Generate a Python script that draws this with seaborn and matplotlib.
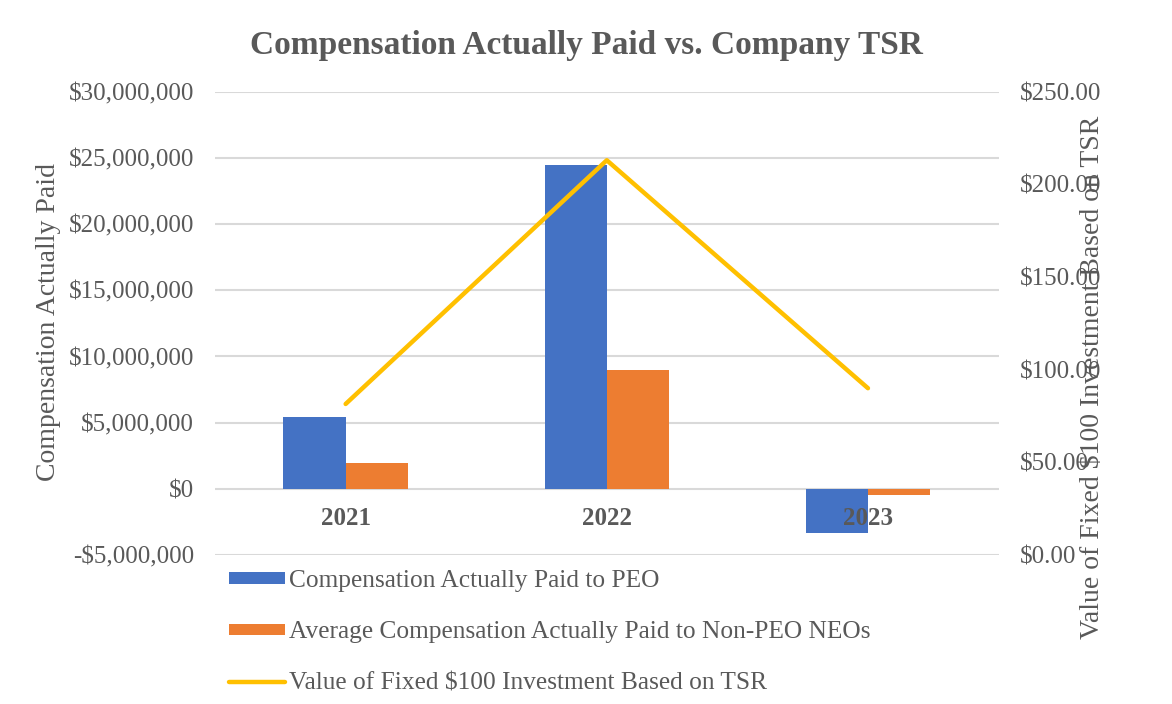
"""
Compensation Actually Paid vs. Company TSR — bars on the left axis, TSR line on the right.
"""

import numpy as np
import pandas as pd
import matplotlib
matplotlib.use("Agg")
import matplotlib.pyplot as plt
import seaborn as sns
from matplotlib.ticker import FuncFormatter, MultipleLocator


YEARS     = ["2021", "2022", "2023"]
PEO_CAP   = [5_430_000, 24_450_000, -3_320_000]
NEO_CAP   = [1_960_000, 9_000_000, -450_000]
TSR_VALUE = [81.5, 213.0, 90.0]

SERIES  = ["Compensation Actually Paid to PEO",
           "Average Compensation Actually Paid to Non-PEO NEOs"]
LINE_LABEL = "Value of Fixed $100 Investment Based on TSR"
COLORS  = ["#4472C4", "#ED7D31"]
YELLOW  = "#FFC000"
GREY    = "#595959"

LEFT_LIM  = (-5_000_000, 30_000_000)
RIGHT_LIM = (0, 250)


# ── Data ───────────────────────────────────────────────────────────────────────
df = pd.DataFrame({
    "Year":   YEARS * 2,
    "Series": [SERIES[0]] * len(YEARS) + [SERIES[1]] * len(YEARS),
    "Value":  PEO_CAP + NEO_CAP,
})

# ── Style ──────────────────────────────────────────────────────────────────────
sns.set_style("white")
plt.rcParams["font.family"] = ["Liberation Serif", "DejaVu Serif"]
plt.rcParams["text.color"] = GREY
plt.rcParams["axes.labelcolor"] = GREY
plt.rcParams["xtick.color"] = GREY
plt.rcParams["ytick.color"] = GREY

fig = plt.figure(figsize=(11.72, 7.04), dpi=100)
ax = fig.add_axes([0.1835, 0.2116, 0.6685, 0.6582])
ax2 = ax.twinx()

# ── Bars ───────────────────────────────────────────────────────────────────────
sns.barplot(data=df, x="Year", y="Value", hue="Series", hue_order=SERIES,
            palette=COLORS, width=0.476, gap=0, saturation=1,
            edgecolor="none", linewidth=0, ax=ax)
bar_handles, bar_labels = ax.get_legend_handles_labels()
ax.get_legend().remove()

ax.set_ylim(*LEFT_LIM)
ax.yaxis.set_major_locator(MultipleLocator(5_000_000))
ax.yaxis.set_major_formatter(FuncFormatter(
    lambda v, _: f"-${abs(v):,.0f}" if v < 0 else f"${v:,.0f}"))
ax.set_xlim(-0.5, len(YEARS) - 0.5)
ax.grid(axis="y", color="#D9D9D9", linewidth=1.5)
ax.set_axisbelow(True)
ax.set_xlabel("")
ax.tick_params(axis="x", labelbottom=False, length=0)
ax.tick_params(axis="y", length=0, labelsize=18, pad=15)
ax.set_ylabel("Compensation Actually Paid", fontsize=20)
ax.yaxis.set_label_coords(-0.196, 0.502)
for sp in ax.spines.values():
    sp.set_visible(False)

# ── TSR line ───────────────────────────────────────────────────────────────────
sns.lineplot(x=np.arange(len(YEARS)), y=TSR_VALUE, color=YELLOW, linewidth=3.2,
             solid_capstyle="round", label=LINE_LABEL, ax=ax2)
line_handles, line_labels = ax2.get_legend_handles_labels()
ax2.get_legend().remove()
ax2.set_ylim(*RIGHT_LIM)
ax2.yaxis.set_major_locator(MultipleLocator(50))
ax2.yaxis.set_major_formatter(FuncFormatter(lambda v, _: f"${v:,.2f}"))
ax2.tick_params(axis="y", length=0, labelsize=18, pad=15)
ax2.set_ylabel("Value of Fixed $100 Investment Based on TSR", fontsize=20)
ax2.yaxis.set_label_coords(1.104, 0.384)

# year labels sit just under the zero line of the left axis, drawn on top of the bars
zero_frac = (0 - LEFT_LIM[0]) / (LEFT_LIM[1] - LEFT_LIM[0])
ax2.xaxis.set_visible(True)
ax2.spines["bottom"].set_position(("axes", zero_frac))
ax2.set_xticks(range(len(YEARS)), YEARS, fontweight="bold")
ax2.tick_params(axis="x", length=0, labelsize=18, pad=13, labelbottom=True)
ax2.set_xlabel("")
for sp in ax2.spines.values():
    sp.set_visible(False)

# ── Title & legend ─────────────────────────────────────────────────────────────
fig.suptitle("Compensation Actually Paid vs. Company TSR", x=0.5, y=0.935,
             va="center", fontsize=24, fontweight="bold", color=GREY)

fig.legend(bar_handles + line_handles, bar_labels + line_labels,
           loc="upper left", bbox_to_anchor=(0.187, 0.2045), frameon=False,
           fontsize=18.3, handlelength=2.2, handleheight=0.3,
           handletextpad=0.16, labelspacing=1.15, borderaxespad=0)

plt.savefig("out.png", dpi=100)
plt.close()
